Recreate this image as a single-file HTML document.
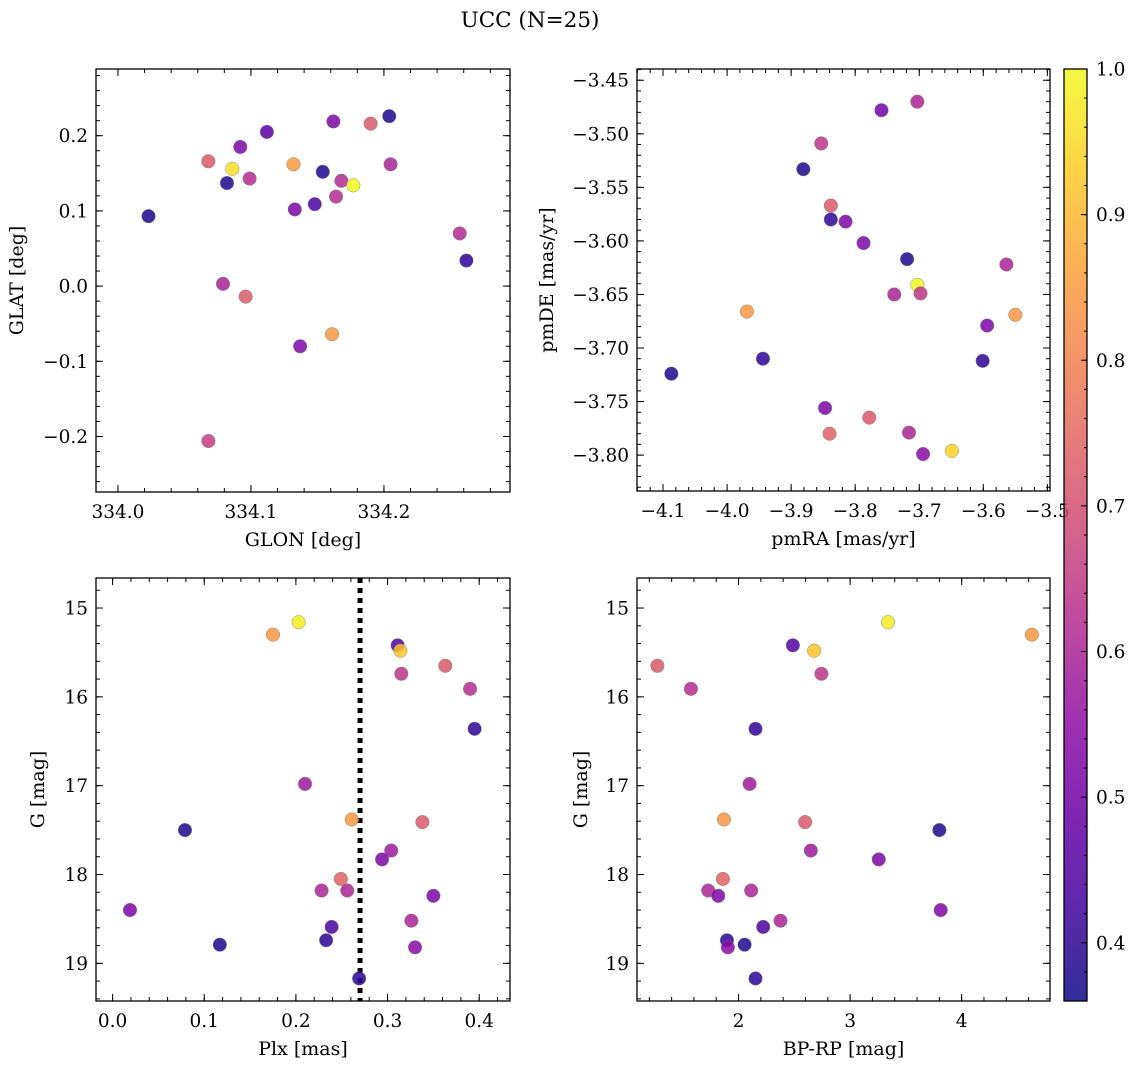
<!DOCTYPE html>
<html><head><meta charset="utf-8"><style>
html,body{margin:0;padding:0;background:#fff;}
svg text{font-family:"DejaVu Serif","Liberation Serif",serif;fill:#000;}
</style></head><body>
<svg id="fig" width="1136" height="1068" viewBox="0 0 1136 1068" xmlns="http://www.w3.org/2000/svg">
<text x="530" y="27" font-size="21.5" text-anchor="middle">UCC (N=25)</text>
</svg>
<script>
// Top panels data
const glon=[334.023,334.068,334.086,334.082,334.092,334.099,334.112,334.132,334.154,334.162,334.190,334.204,334.168,334.177,334.205,334.133,334.148,334.164,334.257,334.262,334.079,334.096,334.137,334.161,334.068];
const glat=[0.093,0.166,0.156,0.137,0.185,0.143,0.205,0.162,0.152,0.219,0.216,0.226,0.140,0.134,0.162,0.102,0.109,0.119,0.070,0.034,0.003,-0.014,-0.080,-0.064,-0.206];
const probPos=[0.38,0.72,0.96,0.38,0.52,0.62,0.47,0.85,0.38,0.52,0.72,0.38,0.62,1.0,0.60,0.52,0.44,0.62,0.62,0.40,0.60,0.72,0.52,0.84,0.66];
const pmra=[-3.703,-3.759,-3.853,-3.881,-3.838,-3.838,-3.815,-3.787,-3.719,-3.564,-3.703,-3.739,-3.698,-3.969,-3.550,-3.594,-3.944,-3.601,-4.087,-3.847,-3.778,-3.840,-3.716,-3.694,-3.649];
const pmde=[-3.470,-3.478,-3.509,-3.533,-3.567,-3.580,-3.582,-3.602,-3.617,-3.622,-3.641,-3.650,-3.649,-3.666,-3.669,-3.679,-3.710,-3.712,-3.724,-3.756,-3.765,-3.780,-3.779,-3.799,-3.796];
const probPm=[0.60,0.50,0.64,0.38,0.72,0.40,0.52,0.52,0.38,0.60,1.0,0.60,0.64,0.84,0.84,0.52,0.40,0.40,0.38,0.52,0.72,0.74,0.60,0.54,0.94];
// Bottom panels data
const plx=[0.203,0.175,0.311,0.314,0.363,0.315,0.390,0.395,0.210,0.079,0.261,0.338,0.304,0.294,0.249,0.228,0.256,0.350,0.019,0.326,0.239,0.233,0.117,0.330,0.269];
const gmag=[15.16,15.30,15.42,15.48,15.65,15.74,15.91,16.36,16.98,17.50,17.38,17.41,17.73,17.83,18.05,18.18,18.18,18.24,18.40,18.52,18.59,18.74,18.79,18.82,19.17];
const bprp=[3.340,4.630,2.487,2.678,1.272,2.743,1.573,2.152,2.099,3.800,1.869,2.597,2.648,3.257,1.860,1.728,2.113,1.818,3.812,2.376,2.221,1.896,2.054,1.904,2.152];
const probPhot=[0.98,0.84,0.45,0.92,0.72,0.64,0.62,0.40,0.58,0.38,0.84,0.72,0.58,0.52,0.74,0.60,0.60,0.52,0.52,0.60,0.44,0.40,0.38,0.54,0.40];
const plxCut=0.270;
const cbTicks=[0.4,0.5,0.6,0.7,0.8,0.9,1.0];

const NS="http://www.w3.org/2000/svg";
const svg=document.getElementById('fig');
function mk(tag,attrs,parent){const e=document.createElementNS(NS,tag);for(const k in attrs)e.setAttribute(k,attrs[k]);(parent||svg).appendChild(e);return e;}
const stops=["#0d0887","#41049d","#6a00a8","#8f0da4","#b12a90","#cc4778","#e16462","#f2844b","#fca636","#fcce25","#f0f921"];
function hx(c){return[parseInt(c.substr(1,2),16),parseInt(c.substr(3,2),16),parseInt(c.substr(5,2),16)];}
function plasma(t){t=Math.max(0,Math.min(1,t));const f=t*10,i=Math.min(9,Math.floor(f)),r=f-i;const a=hx(stops[i]),b=hx(stops[i+1]);return 'rgb('+a.map((v,k)=>Math.round(v+(b[k]-v)*r)).join(',')+')';}
const VMIN=0.36,VMAX=1.0;
function col(p){return plasma((p-VMIN)/(VMAX-VMIN));}
function fmt(v,d){let s=v.toFixed(d);if(parseFloat(s)===0)return (0).toFixed(d);if(s.startsWith('-'))s='\u2212'+s.slice(1);return s;}

const TFS=18.5, AFS=19;
function panel(o){
  const g=mk('g',{});
  
  
  const X=v=>o.x0+(v-o.xd[0])/(o.xd[1]-o.xd[0])*(o.x1-o.x0);
  const Y=v=>o.yinv? o.y0+(v-o.yd[0])/(o.yd[1]-o.yd[0])*(o.y1-o.y0) : o.y1-(v-o.yd[0])/(o.yd[1]-o.yd[0])*(o.y1-o.y0);
  const eps=1e-9;
  function ticksX(step,len,label){
    const s=Math.ceil((o.xd[0]-eps)/step),e=Math.floor((o.xd[1]+eps)/step);
    for(let i=s;i<=e;i++){const v=i*step,px=X(v);
      mk('line',{x1:px,x2:px,y1:o.y1,y2:o.y1-len,stroke:'#000','stroke-width':1},g);
      mk('line',{x1:px,x2:px,y1:o.y0,y2:o.y0+len,stroke:'#000','stroke-width':1},g);
      if(label){const t=mk('text',{x:px,y:o.y1+26,'font-size':TFS,'text-anchor':'middle'},g);t.textContent=label(v);
        
        }
    }}
  function ticksY(step,len,label){
    const lo=Math.min(o.yd[0],o.yd[1]),hi=Math.max(o.yd[0],o.yd[1]);
    const s=Math.ceil((lo-eps)/step),e=Math.floor((hi+eps)/step);
    for(let i=s;i<=e;i++){const v=i*step,py=Y(v);
      mk('line',{x1:o.x0,x2:o.x0+len,y1:py,y2:py,stroke:'#000','stroke-width':1},g);
      mk('line',{x1:o.x1,x2:o.x1-len,y1:py,y2:py,stroke:'#000','stroke-width':1},g);
      if(label){const t=mk('text',{x:o.x0-8,y:py+6.5,'font-size':TFS,'text-anchor':'end'},g);t.textContent=label(v);
        
        }
    }}
  ticksX(o.xminor,4,null);ticksX(o.xmajor,7,o.xlab);
  ticksY(o.yminor,4,null);ticksY(o.ymajor,7,o.ylab);
  if(o.vline!==undefined){const l=mk('line',{x1:X(o.vline),x2:X(o.vline),y1:o.y0,y2:o.y1,stroke:'#000','stroke-width':5,'stroke-dasharray':'5 5'},g);
    
    }
  for(let i=0;i<o.xs.length;i++){
    const c=mk('circle',{cx:X(o.xs[i]),cy:Y(o.ys[i]),r:6.8,fill:col(o.ps[i]),'fill-opacity':0.85,stroke:'#777','stroke-width':0.4},g);
    
    
  }
  mk('rect',{x:o.x0,y:o.y0,width:o.x1-o.x0,height:o.y1-o.y0,fill:'none',stroke:'#000','stroke-width':1.3},g);
  const xl=mk('text',{x:(o.x0+o.x1)/2,y:o.y1+54,'font-size':AFS,'text-anchor':'middle'},g);xl.textContent=o.xtitle;
  
  
  const yc=(o.y0+o.y1)/2;
  const yl=mk('text',{x:o.ytx,y:yc,'font-size':AFS,'text-anchor':'middle',transform:'rotate(-90 '+o.ytx+' '+yc+')'},g);yl.textContent=o.ytitle;
  
  
}

panel({name:'glon-glat-panel',x0:96,x1:510,y0:69,y1:492,xd:[333.9835,334.2948],yd:[-0.2738,0.2887],
  xmajor:0.1,xminor:0.02,ymajor:0.1,yminor:0.02,xlab:v=>v.toFixed(1),ylab:v=>fmt(v,1),
  xs:glon,ys:glat,ps:probPos,xtitle:'GLON [deg]',ytitle:'GLAT [deg]',ytx:23});
panel({name:'proper-motion-panel',x0:637,x1:1050,y0:69,y1:491,xd:[-4.1406,-3.4959],yd:[-3.8335,-3.4395],
  xmajor:0.1,xminor:0.02,ymajor:0.05,yminor:0.01,xlab:v=>fmt(v,1),ylab:v=>fmt(v,2),
  xs:pmra,ys:pmde,ps:probPm,xtitle:'pmRA [mas/yr]',ytitle:'pmDE [mas/yr]',ytx:553});
panel({name:'plx-g-panel',x0:96,x1:510,y0:578,y1:1001,xd:[-0.0181,0.4336],yd:[14.662,19.424],yinv:true,
  xmajor:0.1,xminor:0.02,ymajor:1,yminor:0.2,xlab:v=>v.toFixed(1),ylab:v=>v.toFixed(0),
  xs:plx,ys:gmag,ps:probPhot,vline:plxCut,xtitle:'Plx [mas]',ytitle:'G [mag]',ytx:44});
panel({name:'cmd-panel',x0:637,x1:1050,y0:578,y1:1001,xd:[1.0896,4.7920],yd:[14.662,19.424],yinv:true,
  xmajor:1,xminor:0.2,ymajor:1,yminor:0.2,xlab:v=>v.toFixed(0),ylab:v=>v.toFixed(0),
  xs:bprp,ys:gmag,ps:probPhot,xtitle:'BP-RP [mag]',ytitle:'G [mag]',ytx:587});

// colorbar
(function(){
  const g=mk('g',{});
  
  
  const x0=1064,x1=1087,y0=69,y1=1001;
  const defs=mk('defs',{},g);
  const lg=mk('linearGradient',{id:'cbg',x1:0,y1:1,x2:0,y2:0},defs);
  for(let i=0;i<=20;i++){const f=i/20;mk('stop',{offset:f,'stop-color':col(VMIN+f*(VMAX-VMIN))},lg);}
  mk('rect',{x:x0,y:y0,width:x1-x0,height:y1-y0,fill:'url(#cbg)','fill-opacity':0.85},g);
  const Y=v=>y1-(v-VMIN)/(VMAX-VMIN)*(y1-y0);
  for(let v=0.36;v<=1.0001;v+=0.02){const py=Y(v);mk('line',{x1:x1,x2:x1-3,y1:py,y2:py,stroke:'#000','stroke-width':1},g);}
  for(const v of cbTicks){const py=Y(v);
    mk('line',{x1:x1,x2:x1-6,y1:py,y2:py,stroke:'#000','stroke-width':1},g);
    const t=mk('text',{x:x1+9,y:py+6.5,'font-size':TFS},g);t.textContent=v.toFixed(1);
    
    }
  mk('rect',{x:x0,y:y0,width:x1-x0,height:y1-y0,fill:'none',stroke:'#000','stroke-width':1.3},g);
})();
</script>
</body></html>
